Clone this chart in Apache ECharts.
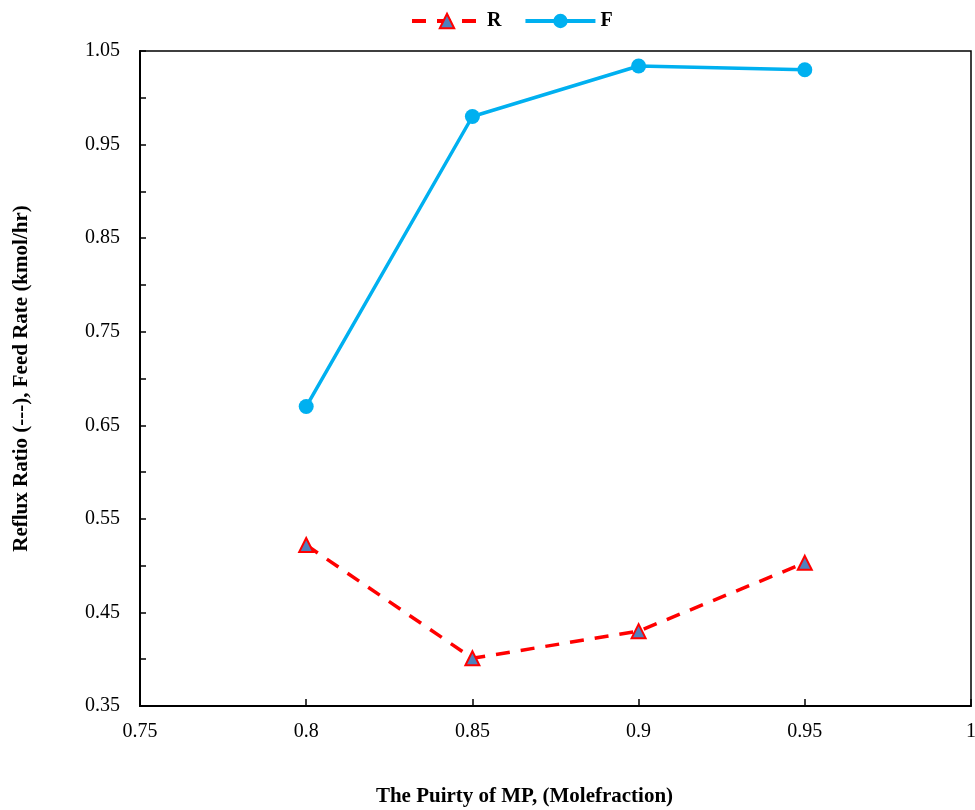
<!DOCTYPE html>
<html>
<head>
<meta charset="utf-8">
<script src="https://cdn.jsdelivr.net/npm/echarts@6/dist/echarts.min.js"></script>
<style>
  html, body { margin: 0; padding: 0; background: #fff; }
  #chart { width: 975px; height: 810px; }
</style>
</head>
<body>
<div id="chart"></div>
<script>
// purity of MP (mole fraction)
const purity = [0.8, 0.85, 0.9, 0.95]
const refluxR = [0.522, 0.401, 0.430, 0.503]
const feedF = [0.670, 0.980, 1.034, 1.030]

const font = '"Liberation Serif", "Times New Roman", serif'

const chart = echarts.init(document.getElementById('chart'))
chart.setOption({
  animation: false,
  textStyle: { fontFamily: font },
  legend: {
    top: 6,
    left: 405,
    itemWidth: 70,
    itemHeight: 18,
    itemGap: 22,
    textStyle: { fontFamily: font, fontSize: 20, fontWeight: 'bold', color: '#000' },
    data: [
      { name: 'R', lineStyle: { width: 4 } },
      { name: 'F', lineStyle: { width: 4 } }
    ]
  },
  grid: {
    left: 140,
    right: 4,
    top: 51,
    bottom: 104,
    show: true,
    borderColor: '#000',
    borderWidth: 1.5,
    outerBoundsMode: 'none',
    containLabel: false
  },
  xAxis: {
    type: 'value',
    min: 0.75,
    max: 1,
    interval: 0.05,
    name: 'The Puirty of MP, (Molefraction)',
    nameLocation: 'middle',
    nameGap: 80,
    nameTextStyle: {
      fontFamily: font, fontSize: 21, fontWeight: 'bold', color: '#000',
      padding: [0, 62, 0, 0]
    },
    axisLine: { lineStyle: { color: '#000', width: 2 } },
    axisTick: { inside: true, length: 7, lineStyle: { color: '#000', width: 1.5 } },
    axisLabel: {
      fontFamily: font, fontSize: 20, color: '#000', margin: 16,
      formatter: v => String(+v.toFixed(2))
    },
    splitLine: { show: false }
  },
  yAxis: {
    type: 'value',
    min: 0.35,
    max: 1.05,
    interval: 0.1,
    name: 'Reflux Ratio (---), Feed Rate (kmol/hr)',
    nameLocation: 'middle',
    nameGap: 108,
    nameTextStyle: { fontFamily: font, fontSize: 21, fontWeight: 'bold', color: '#000' },
    axisLine: { lineStyle: { color: '#000', width: 2 } },
    axisTick: { inside: true, length: 6, lineStyle: { color: '#000', width: 1.5 } },
    minorTick: { show: true, splitNumber: 2, length: 6, lineStyle: { color: '#000', width: 1.5 } },
    axisLabel: {
      fontFamily: font, fontSize: 20, color: '#000', margin: 20,
      formatter: v => v.toFixed(2)
    },
    splitLine: { show: false }
  },
  series: [
    {
      name: 'R',
      type: 'line',
      data: purity.map((x, i) => [x, refluxR[i]]),
      symbol: 'triangle',
      symbolSize: 14,
      lineStyle: { color: '#FF0000', width: 3.5, type: [14, 11] },
      itemStyle: { color: '#4F81BD', borderColor: '#FF0000', borderWidth: 2 }
    },
    {
      name: 'F',
      type: 'line',
      data: purity.map((x, i) => [x, feedF[i]]),
      symbol: 'circle',
      symbolSize: 15,
      lineStyle: { color: '#00B0F0', width: 3.5 },
      itemStyle: { color: '#00B0F0' }
    }
  ]
})
</script>
</body>
</html>
